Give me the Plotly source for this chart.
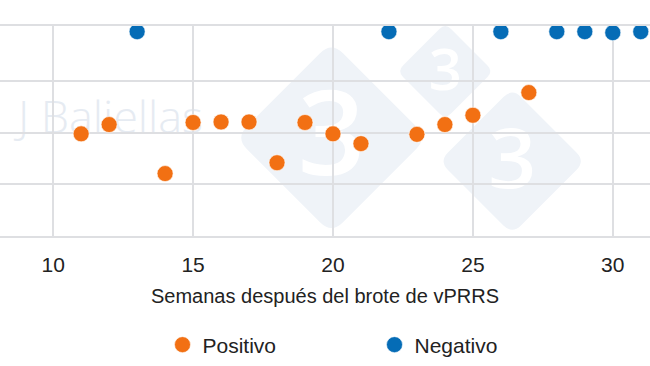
import plotly.graph_objects as go

# Data (weeks after vPRRS outbreak, value)
pos_weeks = [11, 12, 14, 15, 16, 17, 18, 19, 20, 21, 23, 24, 25, 27]
pos_vals = [29.9, 30.8, 26.05, 31.0, 31.05, 31.05, 27.1, 31.0, 29.9, 28.95, 29.85, 30.8, 31.7, 33.9]
neg_weeks = [13, 22, 26, 28, 29, 30, 31]
neg_vals = [39.8, 39.8, 39.8, 39.8, 39.8, 39.7, 39.8]

x_ticks = [10, 15, 20, 25, 30]
y_ticks = [20, 25, 30, 35]

ORANGE = "#f27013"
BLUE = "#056cb6"
GRID = "#dedfe2"
WM = "#eff3f8"

fig = go.Figure()
fig.add_trace(go.Scatter(
    x=pos_weeks, y=pos_vals, mode="markers", name="Positivo",
    marker=dict(color=ORANGE, size=16, line=dict(color="rgba(255,255,255,0.6)", width=1)),
))
fig.add_trace(go.Scatter(
    x=neg_weeks, y=neg_vals, mode="markers", name="Negativo",
    marker=dict(color=BLUE, size=16, line=dict(color="rgba(255,255,255,0.6)", width=1)),
))

# watermark logo: three rounded diamonds with a "3"
def diamond(h):
    r = h * 0.12
    return (f"M {-(h - r)},{r} L {-r},{h - r} Q 0,{h} {r},{h - r} "
            f"L {h - r},{r} Q {h},0 {h - r},{-r} L {r},{-(h - r)} "
            f"Q 0,{-h} {-r},{-(h - r)} L {-(h - r)},{-r} Q {-h},0 {-(h - r)},{r} Z")

logo = [(0.51, 0.468, 96, 118), (0.685, 0.785, 48, 58), (0.788, 0.356, 73, 84)]
for (px, py, h, fs) in logo:
    fig.add_shape(type="path", xref="paper", yref="paper",
                  xsizemode="pixel", ysizemode="pixel", xanchor=px, yanchor=py,
                  path=diamond(h), fillcolor=WM, line=dict(width=0), layer="below",
                  label=dict(text="3", font=dict(color="white", size=fs, family="Open Sans", weight=600),
                             textposition="middle center"))

fig.add_shape(type="rect", xref="paper", yref="paper", x0=0.0, x1=0.34, y0=0.45, y1=0.67,
              line=dict(width=0), fillcolor="rgba(0,0,0,0)", layer="below",
              label=dict(text="J Baliellas", font=dict(color="#e6ebf2", size=45, family="Open Sans", weight=300),
                         textposition="middle center"))

fig.update_layout(
    width=650, height=366,
    margin=dict(l=0, r=0, t=26, b=130, autoexpand=False),
    paper_bgcolor="white", plot_bgcolor="white",
    font=dict(family="Liberation Sans, Arial, sans-serif", color="#222222"),
    showlegend=True,
    legend=dict(orientation="h", x=0.25, xanchor="left", y=-0.519, yanchor="middle",
                font=dict(size=21, color="#222222"), entrywidth=167, entrywidthmode="pixels",
                itemclick=False),
    xaxis=dict(range=[8.1, 31.33], tickvals=x_ticks, showgrid=True, gridcolor=GRID, gridwidth=1.5,
               zeroline=False, showline=True, linecolor=GRID, linewidth=1.5, mirror=True,
               automargin=False,
               tickfont=dict(size=21, color="#222222"), ticks="", ticklabelstandoff=9,
               title=dict(text="Semanas después del brote de vPRRS", font=dict(size=20, color="#222222"),
                          standoff=14)),
    yaxis=dict(range=[20, 40.35], tickvals=y_ticks, showgrid=True, gridcolor=GRID, gridwidth=1.5,
               zeroline=False, showticklabels=False, showline=False, automargin=False),
)

fig.write_html("out.html", config={"displayModeBar": False},
               post_script="document.body.style.margin='0px';")
